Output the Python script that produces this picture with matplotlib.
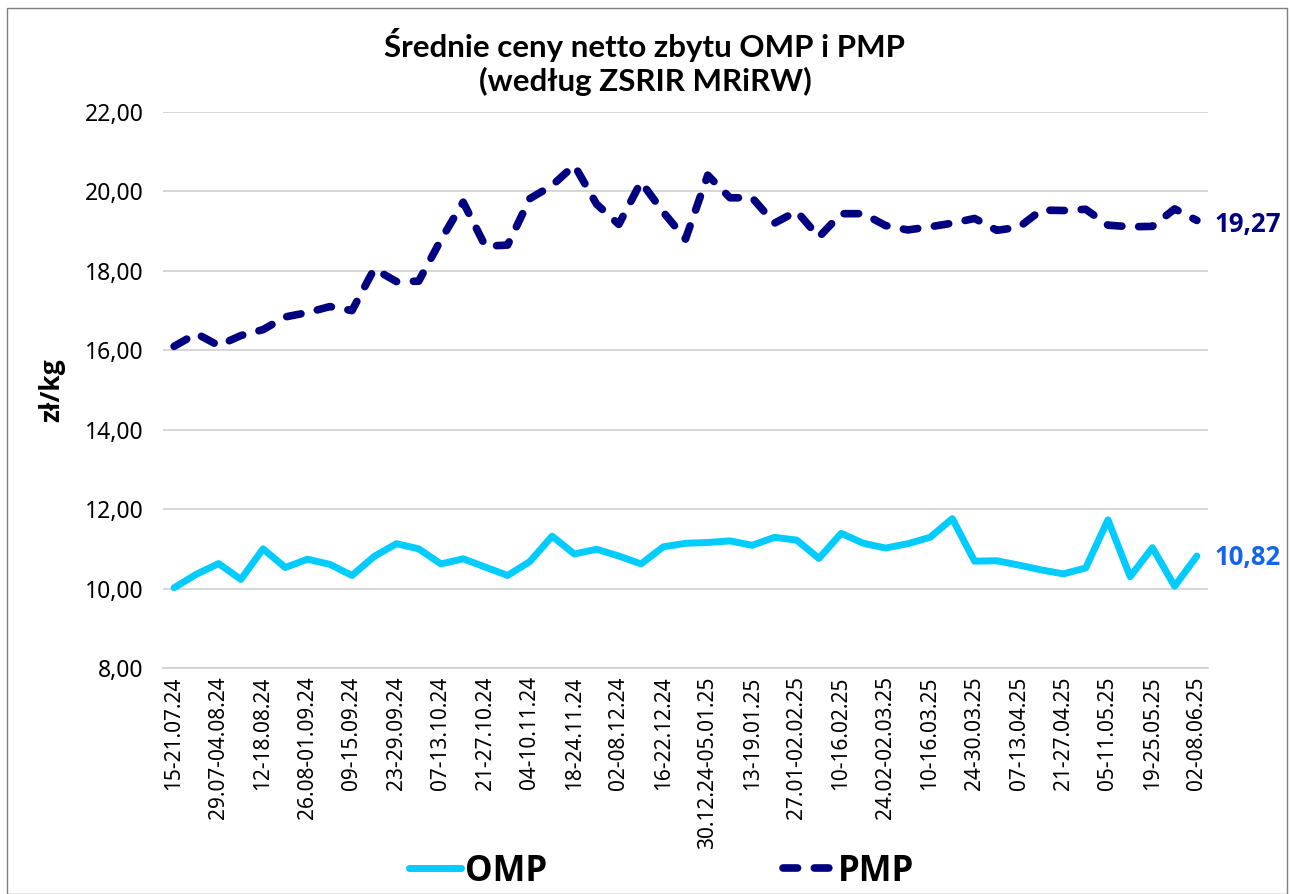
import matplotlib
matplotlib.use("Agg")
import matplotlib.pyplot as plt
from matplotlib.patches import Rectangle

tick_labels = ["15-21.07.24", "29.07-04.08.24", "12-18.08.24", "26.08-01.09.24",
               "09-15.09.24", "23-29.09.24", "07-13.10.24", "21-27.10.24",
               "04-10.11.24", "18-24.11.24", "02-08.12.24", "16-22.12.24",
               "30.12.24-05.01.25", "13-19.01.25", "27.01-02.02.25", "10-16.02.25",
               "24.02-02.03.25", "10-16.03.25", "24-30.03.25", "07-13.04.25",
               "21-27.04.25", "05-11.05.25", "19-25.05.25", "02-08.06.25"]

omp = [10.02, 10.36, 10.63, 10.23, 11.00, 10.53, 10.74, 10.61, 10.33, 10.81,
       11.13, 11.00, 10.62, 10.75, 10.54, 10.33, 10.68, 11.32, 10.87, 10.99,
       10.82, 10.62, 11.05, 11.14, 11.16, 11.20, 11.09, 11.29, 11.22, 10.76,
       11.39, 11.14, 11.02, 11.13, 11.29, 11.76, 10.69, 10.70, 10.59, 10.47,
       10.37, 10.52, 11.73, 10.30, 11.03, 10.06, 10.82]

pmp = [16.10, 16.42, 16.12, 16.37, 16.52, 16.84, 16.95, 17.10, 17.00, 18.05,
       17.73, 17.74, 18.78, 19.73, 18.62, 18.65, 19.82, 20.15, 20.66, 19.68,
       19.17, 20.24, 19.48, 18.80, 20.41, 19.84, 19.84, 19.20, 19.50, 18.85,
       19.44, 19.44, 19.14, 19.03, 19.11, 19.20, 19.32, 19.02, 19.10, 19.53,
       19.52, 19.55, 19.15, 19.11, 19.12, 19.56, 19.27]

FONT = "Noto Sans"
BFONT = "Open Sans"

fig = plt.figure(figsize=(12.9, 8.94), dpi=100)
ax = fig.add_axes([163/1290, 1-668/894, (1208-163)/1290, (668-112)/894])

x = list(range(len(omp)))
ax.plot(x, omp, color="#00CCFF", lw=5, solid_joinstyle="round",
        solid_capstyle="round", label="OMP", zorder=3)
ax.plot(x, pmp, color="#000080", lw=5.5, linestyle=(0, (1.9, 2.2)),
        dash_capstyle="round", dash_joinstyle="round", label="PMP", zorder=3)

ax.set_xlim(-0.5, len(omp) - 0.5)
ax.set_ylim(8, 22)
ax.set_yticks(range(8, 23, 2))
ax.set_yticklabels([f"{v},00" for v in range(8, 23, 2)],
                   fontsize=16.5, family=FONT)
ax.set_xticks(range(0, len(omp), 2))
ax.set_xticklabels(tick_labels, rotation=90, fontsize=15, family=FONT)
ax.tick_params(axis="y", length=0, pad=14)
ax.tick_params(axis="x", length=0, pad=6)
ax.grid(axis="y", color="#D0D0D0", lw=1.2)
ax.set_axisbelow(True)
for s in ["top", "right", "left"]:
    ax.spines[s].set_visible(False)
ax.spines["bottom"].set_color("#D0D0D0")
ax.spines["bottom"].set_linewidth(1.2)

ax.set_ylabel("zł/kg", fontsize=19, fontweight="bold", family=BFONT, labelpad=14)

fig.text(0.5, 1-45/894, "Średnie ceny netto zbytu OMP i PMP", ha="center", va="center",
         fontsize=22.5, fontweight="bold", family="Lato")
fig.text(0.5, 1-81/894, "(według ZSRIR MRiRW)", ha="center", va="center",
         fontsize=22.5, fontweight="bold", family="Lato")

ax.annotate("19,27", xy=(len(pmp) - 1, pmp[-1]), xytext=(13, -3),
            textcoords="offset points", ha="left", va="center",
            fontsize=18.5, fontweight="bold", color="#000080", family=BFONT)
ax.annotate("10,82", xy=(len(omp) - 1, omp[-1]), xytext=(13, -1),
            textcoords="offset points", ha="left", va="center",
            fontsize=18.5, fontweight="bold", color="#1464F0", family=BFONT)

leg = fig.legend(loc="lower center", bbox_to_anchor=(0.513, -0.03), ncol=2,
                 frameon=False, handlelength=1.5, columnspacing=6.8,
                 handletextpad=0.1,
                 prop={"family": BFONT, "weight": "bold", "size": 25})

fig.patches.append(Rectangle((7/1290, 0), (1287-7)/1290, 1-8/894,
                             transform=fig.transFigure, fill=False,
                             edgecolor="#7F7F7F", lw=1))

fig.savefig("out.png", dpi=100)
